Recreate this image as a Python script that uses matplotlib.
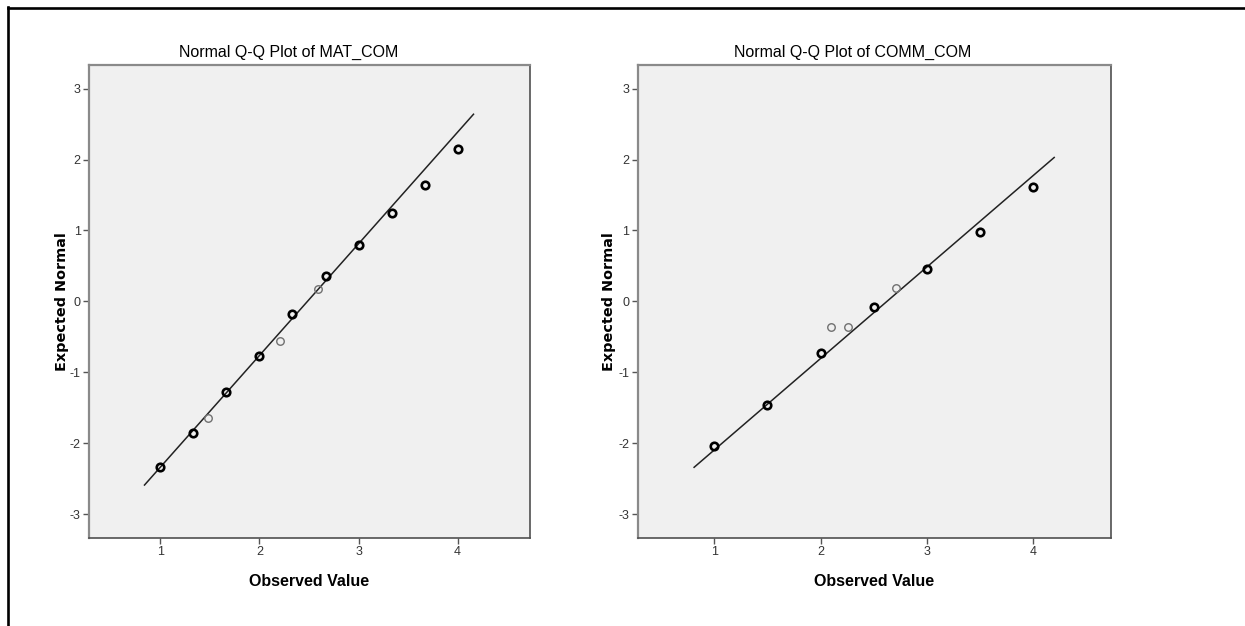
import matplotlib
matplotlib.use("Agg")
import matplotlib.pyplot as plt
from matplotlib.lines import Line2D

plt.rcParams["axes.unicode_minus"] = False

# MAT_COM: observed values vs expected normal
mat_obs = [1.0, 1.333, 1.667, 2.0, 2.333, 2.667, 3.0, 3.333, 3.667, 4.0]
mat_exp = [-2.34, -1.85, -1.28, -0.77, -0.18, 0.36, 0.80, 1.25, 1.64, 2.15]
mat_obs_light = [1.48, 2.21, 2.59]
mat_exp_light = [-1.65, -0.555, 0.17]
mat_line_x = [0.84, 4.16]
mat_line_y = [-2.59, 2.64]

# COMM_COM
comm_obs = [1.0, 1.5, 2.0, 2.5, 3.0, 3.5, 4.0]
comm_exp = [-2.04, -1.46, -0.73, -0.08, 0.45, 0.98, 1.62]
comm_obs_light = [2.10, 2.26, 2.71]
comm_exp_light = [-0.36, -0.36, 0.19]
comm_line_x = [0.81, 4.20]
comm_line_y = [-2.34, 2.03]

x_ticks = [1, 2, 3, 4]
y_ticks = [-3, -2, -1, 0, 1, 2, 3]

narrow = ["Liberation Sans Narrow", "Liberation Sans", "DejaVu Sans"]

W, H = 1245, 626
fig = plt.figure(figsize=(W / 100, H / 100), dpi=100)

# outer frame (top and left edges only are visible)
fig.add_artist(Line2D([7.5 / W, 1.0], [1 - 7.5 / H, 1 - 7.5 / H], color="black", lw=1.9))
fig.add_artist(Line2D([7.5 / W, 7.5 / W], [0.0, 1 - 6.5 / H], color="black", lw=1.9))


def qq_panel(rect, obs, exp, obs_l, exp_l, lx, ly, title, title_x, ylab_x):
    ax = fig.add_axes(rect)
    ax.set_facecolor("#f0f0f0")
    ax.plot(lx, ly, color="#222222", lw=1.1, zorder=2)
    ax.plot(obs_l, exp_l, "o", ms=5.4, mfc="none", mec="#707070", mew=1.0, zorder=3)
    ax.plot(obs, exp, "o", ms=5.4, mfc="none", mec="black", mew=1.9, zorder=4)
    ax.set_xlim(0.28, 4.73)
    ax.set_ylim(-3.33, 3.33)
    ax.set_xticks(x_ticks)
    ax.set_yticks(y_ticks)
    ax.tick_params(length=4, width=1, color="#555555", labelcolor="#333333", pad=2)
    for lab in ax.get_xticklabels() + ax.get_yticklabels():
        lab.set_family(narrow)
        lab.set_fontsize(9)
    for side in ["top", "left"]:
        ax.spines[side].set_color("#8a8a8a")
        ax.spines[side].set_linewidth(1.6)
    for side in ["right", "bottom"]:
        ax.spines[side].set_color("#505050")
        ax.spines[side].set_linewidth(1.2)

    x0, y0, w, h = rect
    fig.text(title_x / W, 1 - 52 / H, title, ha="center", va="center",
             family=narrow, fontsize=11.5)
    fig.text(x0 + w / 2, 1 - 581 / H, "Observed Value", ha="center", va="center",
             family=narrow, fontsize=11.5, fontweight="bold")
    fig.text(ylab_x / W, y0 + h / 2, "Expected Normal", ha="center", va="center",
             rotation=90, family="DejaVu Sans", fontsize=10.4, fontweight="bold")
    return ax


bottom = 1 - 537.5 / H
height = 472.2 / H
qq_panel([89 / W, bottom, 441 / W, height], mat_obs, mat_exp,
         mat_obs_light, mat_exp_light, mat_line_x, mat_line_y,
         "Normal Q-Q Plot of MAT_COM", 289, 62)
qq_panel([637.8 / W, bottom, 472.7 / W, height], comm_obs, comm_exp,
         comm_obs_light, comm_exp_light, comm_line_x, comm_line_y,
         "Normal Q-Q Plot of COMM_COM", 853, 609)

fig.savefig("out.png", dpi=100)
